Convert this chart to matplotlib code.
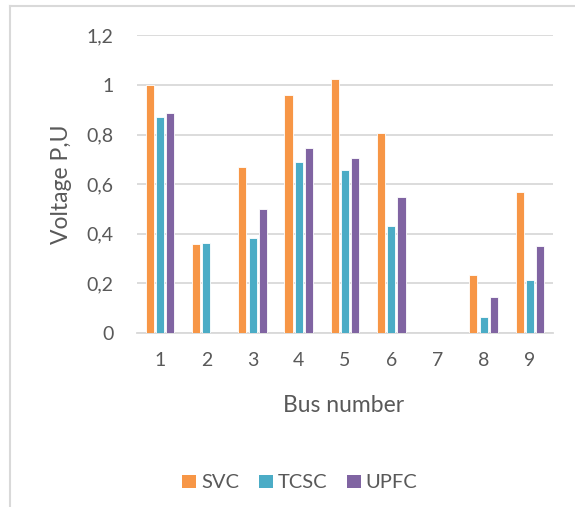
import matplotlib
matplotlib.use("Agg")
import matplotlib.pyplot as plt
from matplotlib.lines import Line2D
import matplotlib.patches as mpatches
import numpy as np

# Voltage per bus for each compensating device
buses = ["1", "2", "3", "4", "5", "6", "7", "8", "9"]
svc = [1.0, 0.36, 0.668, 0.960, 1.024, 0.806, 0.0, 0.232, 0.567]
tcsc = [0.870, 0.364, 0.384, 0.691, 0.657, 0.432, 0.0, 0.062, 0.212]
upfc = [0.886, 0.0, 0.499, 0.745, 0.706, 0.549, 0.0, 0.143, 0.350]
series_names = ["SVC", "TCSC", "UPFC"]
yticks = [0, 0.2, 0.4, 0.6, 0.8, 1.0, 1.2]
ytick_labels = ["0", "0,2", "0,4", "0,6", "0,8", "1", "1,2"]

COLORS = ["#F79646", "#4BACC6", "#8064A2"]
TEXT = "#595959"
GRID = "#D9D9D9"
FONT = "Lato"

W, H = 575, 507
fig = plt.figure(figsize=(W / 100, H / 100), dpi=100)

ax = fig.add_axes([137 / W, 1 - 332.7 / H, (553 - 137) / W, (332.7 - 35.5) / H])

x = np.arange(len(buses))
bar_w = 0.175
step = 0.222
for i, (vals, c) in enumerate(zip([svc, tcsc, upfc], COLORS)):
    ax.bar(x + (i - 1) * step, vals, width=bar_w, color=c,
           edgecolor="white", linewidth=0.6, zorder=3)

ax.set_xlim(-0.5, len(buses) - 0.5)
ax.set_ylim(0, 1.2)
ax.set_yticks(yticks)
ax.set_yticklabels(ytick_labels)
ax.set_xticks(x)
ax.set_xticklabels(buses)
ax.tick_params(length=0, labelsize=14, colors=TEXT)
ax.tick_params(axis="y", pad=17)
ax.tick_params(axis="x", pad=14)
for lab in ax.get_xticklabels() + ax.get_yticklabels():
    lab.set_fontfamily(FONT)
ax.yaxis.grid(True, color=GRID, linewidth=1.3, zorder=0)
for s in ["top", "right", "left"]:
    ax.spines[s].set_visible(False)
ax.spines["bottom"].set_color(GRID)
ax.spines["bottom"].set_linewidth(1.3)

fig.text(61 / W, 1 - 184 / H, "Voltage P,U", fontsize=16.5, color=TEXT,
         family=FONT, rotation=90, ha="center", va="center")
fig.text(344 / W, 1 - 405 / H, "Bus number", fontsize=16.5, color=TEXT,
         family=FONT, ha="center", va="center")

handles = [mpatches.Patch(facecolor=c, label=n) for n, c in zip(series_names, COLORS)]
fig.legend(handles=handles, loc="center", bbox_to_anchor=(300 / W, 1 - 483 / H),
           ncol=3, frameon=False, handlelength=0.67, handleheight=0.67,
           handletextpad=0.25, columnspacing=1.0,
           prop={"family": FONT, "size": 14.5}, labelcolor=TEXT)

# chart frame (left and top edges)
fig.add_artist(Line2D([9.5 / W, 9.5 / W], [0, 1 - 6 / H], color=GRID,
                      linewidth=1.5, transform=fig.transFigure))
fig.add_artist(Line2D([9.5 / W, 1], [1 - 6 / H, 1 - 6 / H], color=GRID,
                      linewidth=1.5, transform=fig.transFigure))

fig.savefig("out.png", dpi=100)
